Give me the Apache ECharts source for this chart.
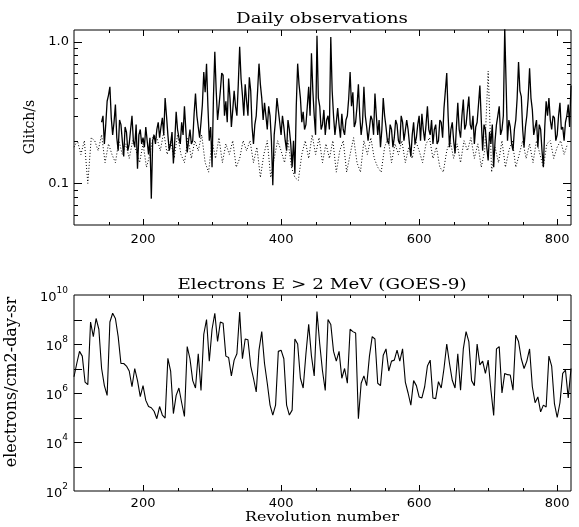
<!DOCTYPE html>
<html>
<head>
<meta charset="utf-8">
<title>Daily observations</title>
<script src="https://cdn.jsdelivr.net/npm/echarts@6.0.0/dist/echarts.min.js"></script>
<style>
  html, body { margin: 0; padding: 0; background: #fff; }
  #chart { width: 579px; height: 527px; }
</style>
</head>
<body>
<div id="chart"></div>
<script>
// top panel, solid trace: one reading every 2 revolutions starting at rev 140
const glitchStart = 140
const glitchStep = 2
const glitchDaily = [
  0.27, 0.30, 0.19, 0.26, 0.38, 0.42, 0.48, 0.29, 0.22, 0.27,   // 140
  0.36, 0.21, 0.17, 0.28, 0.26, 0.2, 0.155, 0.25, 0.23, 0.17,   // 160
  0.19, 0.24, 0.30, 0.2, 0.18, 0.26, 0.127, 0.22, 0.24, 0.19,   // 180
  0.21, 0.18, 0.25, 0.2, 0.16, 0.21, 0.078, 0.2, 0.22, 0.19,    // 200
  0.24, 0.27, 0.21, 0.25, 0.29, 0.22, 0.40, 0.3, 0.22, 0.17,    // 220
  0.19, 0.23, 0.138, 0.2, 0.32, 0.24, 0.21, 0.19, 0.27, 0.22,   // 240
  0.35, 0.24, 0.165, 0.2, 0.24, 0.19, 0.2, 0.31, 0.43, 0.3,     // 260
  0.25, 0.21, 0.27, 0.36, 0.61, 0.44, 0.70, 0.35, 0.2, 0.25,    // 280
  0.13, 0.4, 0.85, 0.45, 0.28, 0.35, 0.45, 0.6, 0.58, 0.3,      // 300
  0.38, 0.27, 0.55, 0.4, 0.25, 0.33, 0.45, 0.35, 0.3, 0.5,      // 320
  0.92, 0.55, 0.42, 0.3, 0.5, 0.38, 0.3, 0.56, 0.45, 0.25,      // 340
  0.19, 0.26, 0.3, 0.45, 0.70, 0.5, 0.4, 0.28, 0.37, 0.3,       // 360
  0.24, 0.35, 0.3, 0.2, 0.097, 0.22, 0.28, 0.4, 0.39, 0.27,     // 380
  0.22, 0.3, 0.25, 0.2, 0.17, 0.28, 0.24, 0.19, 0.13, 0.2,      // 400
  0.117, 0.35, 0.70, 0.5, 0.4, 0.27, 0.32, 0.24, 0.26, 0.35,    // 420
  0.48, 0.3, 0.83, 0.45, 0.3, 0.22, 1.1, 0.4, 0.35, 0.24,       // 440
  0.26, 0.33, 0.22, 0.28, 0.3, 0.24, 1.08, 0.45, 0.3, 0.22,     // 460
  0.27, 0.34, 0.26, 0.21, 0.31, 0.24, 0.22, 0.28, 0.3, 0.4,     // 480
  0.61, 0.35, 0.44, 0.25, 0.27, 0.35, 0.5, 0.3, 0.22, 0.27,     // 500
  0.48, 0.3, 0.25, 0.2, 0.2, 0.3, 0.28, 0.22, 0.43, 0.3,        // 520
  0.22, 0.28, 0.18, 0.24, 0.4, 0.3, 0.25, 0.2, 0.19, 0.26,      // 540
  0.24, 0.18, 0.21, 0.28, 0.26, 0.2, 0.19, 0.3, 0.27, 0.2,      // 560
  0.2, 0.28, 0.24, 0.19, 0.154, 0.22, 0.27, 0.19, 0.21, 0.26,   // 580
  0.3, 0.2, 0.31, 0.24, 0.2, 0.26, 0.35, 0.24, 0.22, 0.28,      // 600
  0.19, 0.24, 0.26, 0.19, 0.2, 0.28, 0.27, 0.21, 0.34, 0.45,    // 620
  0.60, 0.3, 0.18, 0.24, 0.27, 0.2, 0.163, 0.25, 0.37, 0.24,    // 640
  0.21, 0.3, 0.39, 0.24, 0.26, 0.33, 0.41, 0.26, 0.24, 0.3,     // 660
  0.19, 0.25, 0.27, 0.36, 0.49, 0.28, 0.17, 0.26, 0.24, 0.18,   // 680
  0.145, 0.23, 0.19, 0.26, 0.13, 0.2, 0.26, 0.3, 0.35, 0.22,    // 700
  0.24, 0.3, 1.25, 0.5, 0.2, 0.28, 0.25, 0.19, 0.17, 0.24,      // 720
  0.28, 0.4, 0.72, 0.45, 0.41, 0.24, 0.18, 0.25, 0.3, 0.4,      // 740
  0.65, 0.4, 0.33, 0.22, 0.22, 0.28, 0.18, 0.26, 0.24, 0.17,    // 760
  0.13, 0.25, 0.38, 0.3, 0.4, 0.28, 0.24, 0.3, 0.29, 0.2,       // 780
  0.22, 0.3, 0.37, 0.24, 0.25, 0.2, 0.27, 0.3, 0.36, 0.25,      // 800
  0.49                                                          // 820
]

// top panel, dotted trace: every 5 revolutions from rev 100
const glitchLowStart = 100
const glitchLowStep = 5
const glitchLow = [
  0.18, 0.2, 0.16, 0.2, 0.1, 0.21, 0.2, 0.17, 0.22, 0.14,     // 100
  0.19, 0.16, 0.14, 0.2, 0.16, 0.19, 0.15, 0.2, 0.17, 0.14,   // 150
  0.19, 0.13, 0.16, 0.22, 0.21, 0.17, 0.23, 0.16, 0.2, 0.15,  // 200
  0.22, 0.16, 0.14, 0.21, 0.15, 0.2, 0.17, 0.22, 0.14, 0.12,  // 250
  0.2, 0.15, 0.21, 0.14, 0.19, 0.16, 0.2, 0.13, 0.15, 0.2,    // 300
  0.17, 0.2, 0.14, 0.18, 0.11, 0.16, 0.2, 0.11, 0.15, 0.2,    // 350
  0.17, 0.14, 0.2, 0.13, 0.11, 0.105, 0.16, 0.2, 0.15, 0.22,  // 400
  0.16, 0.21, 0.14, 0.19, 0.15, 0.2, 0.12, 0.17, 0.2, 0.12,   // 450
  0.16, 0.21, 0.14, 0.12, 0.2, 0.16, 0.21, 0.15, 0.13, 0.12,  // 500
  0.18, 0.21, 0.14, 0.19, 0.16, 0.2, 0.14, 0.18, 0.15, 0.2,   // 550
  0.17, 0.14, 0.19, 0.21, 0.15, 0.18, 0.13, 0.12, 0.17, 0.2,  // 600
  0.15, 0.19, 0.14, 0.2, 0.17, 0.21, 0.15, 0.19, 0.13, 0.17,  // 650
  0.62, 0.12, 0.18, 0.14, 0.2, 0.13, 0.17, 0.2, 0.13, 0.16,   // 700
  0.2, 0.15, 0.19, 0.14, 0.2, 0.16, 0.13, 0.19, 0.2, 0.15,    // 750
  0.18, 0.2, 0.16, 0.19                                       // 800
]

// bottom panel: GOES-9 electron fluence, every 4 revolutions from rev 100
const electronStart = 100
const electronStep = 4
const electrons = [
  4.6e6, 1.6e7, 5e7, 3.2e7, 2.8e6, 2.2e6, 7.9e8, 2e8, 1.1e9, 4e8,       // 100
  1e7, 2e6, 8e5, 7.9e8, 1.8e9, 1.1e9, 2e8, 1.6e7, 1.6e7, 1.26e7,        // 140
  7.9e6, 1.8e6, 1e7, 3.2e6, 7.1e5, 2e6, 5e5, 2.8e5, 2.5e5, 1.8e5,       // 180
  8.9e4, 2.8e5, 1.26e5, 9.5e4, 2.6e7, 7.9e6, 1.45e5, 8e5, 1.6e6, 4e5,   // 220
  1.1e5, 7.9e7, 2.5e7, 3.2e6, 1.6e6, 4e7, 1.26e6, 2.5e8, 1e9, 2e7,      // 260
  4e8, 1.8e9, 1.26e8, 7.9e8, 7.1e8, 3.2e7, 2.8e7, 5e6, 2.2e7, 4e7,      // 300
  2e9, 2.5e7, 1.6e8, 1.5e8, 1.26e7, 4e6, 1.1e6, 5.6e7, 3.2e8, 1.6e7,    // 340
  2.5e6, 3.2e5, 1.26e5, 3.2e5, 5e7, 5.6e7, 2.5e7, 3.2e5, 1.26e5, 2e5,   // 380
  1.6e8, 1e8, 4e6, 1.6e6, 4e7, 6.3e8, 3.2e7, 5e6, 2.1e9, 1e8,           // 420
  7.9e6, 1.26e6, 1e9, 6.3e8, 5e7, 2e7, 5e7, 4e6, 1e7, 2.5e6,            // 460
  4e8, 3.2e8, 2.8e8, 8.9e4, 2.5e6, 5e6, 2e6, 3.2e7, 2e8, 1.6e8,         // 500
  2.5e6, 2e6, 3.5e7, 6.3e7, 7.9e6, 2e7, 2.2e7, 5.6e7, 2e7, 6.3e7,       // 540
  2.8e6, 1e6, 3.2e5, 3.2e6, 2e6, 6.9e5, 6.3e5, 1.8e6, 1.26e7, 2.2e7,    // 580
  6.3e5, 5.9e5, 2.9e6, 1.6e6, 1e7, 1e8, 1.6e7, 3.3e6, 1.6e6, 4e7,       // 620
  1.3e6, 6.3e7, 3.2e8, 1.26e8, 3.2e6, 2e6, 1e8, 1.4e7, 2e7, 6.3e6,      // 660
  2.2e7, 1.3e6, 1.2e5, 6.3e7, 7.8e7, 1e6, 6.3e6, 5.6e6, 5.4e6, 1.3e6,   // 700
  2.3e8, 1.26e8, 2.5e7, 1e7, 2e7, 6.3e7, 1.8e6, 4e5, 6.9e5, 1.7e5,      // 740
  3.2e5, 2.7e5, 3.2e7, 1.26e7, 3.7e5, 1e5, 4e5, 6.3e6, 8.5e6, 6.3e5,    // 780
  1e7                                                                   // 820
]

// axis ticks (IDL style: inward, on all four sides)
const revTicksMajor = [200, 400, 600, 800]
const revTicksMinor = [150, 250, 300, 350, 450, 500, 550, 650, 700, 750]
const glitchTicksMajor = [0.1, 1]
const glitchTicksMinor = [0.06, 0.07, 0.08, 0.09, 0.2, 0.3, 0.4, 0.5, 0.6, 0.7, 0.8, 0.9]
const electronTicks = [1e3, 1e4, 1e5, 1e6, 1e7, 1e8, 1e9]
const electronLabels = [1e2, 1e4, 1e6, 1e8, 1e10]

const serif = 'DejaVu Serif'
const sans = 'DejaVu Sans'
// the IDL lettering is about a fifth wider than DejaVu Serif
const stretch = 1.22

function toPairs(start, step, values) {
  return values.map((v, i) => [start + i * step, v])
}

// custom series that draws the ticks through the axes' own scales
function tickSeries(idx, yMajor, yMinor, yRef, yMajorLen, yMinorLen) {
  const data = []
  revTicksMajor.forEach(v => data.push([v, yRef, 6, 0]))
  revTicksMinor.forEach(v => data.push([v, yRef, 3, 0]))
  yMajor.forEach(v => data.push([100, v, yMajorLen, 1]))
  yMinor.forEach(v => data.push([100, v, yMinorLen, 1]))
  return {
    type: 'custom',
    xAxisIndex: idx,
    yAxisIndex: idx,
    silent: true,
    z: 5,
    data: data,
    renderItem: function (params, api) {
      const cs = params.coordSys
      const p = api.coord([api.value(0), api.value(1)])
      const len = api.value(2)
      const style = { stroke: '#000', lineWidth: 1 }
      if (api.value(3) === 0) {
        const x = Math.round(p[0]) + 0.5
        const yb = cs.y + cs.height
        return {
          type: 'group',
          children: [
            { type: 'line', shape: { x1: x, y1: yb, x2: x, y2: yb - len }, style: style },
            { type: 'line', shape: { x1: x, y1: cs.y, x2: x, y2: cs.y + len }, style: style }
          ]
        }
      }
      const y = Math.round(p[1]) + 0.5
      const xr = cs.x + cs.width
      return {
        type: 'group',
        children: [
          { type: 'line', shape: { x1: cs.x, y1: y, x2: cs.x + len, y2: y }, style: style },
          { type: 'line', shape: { x1: xr, y1: y, x2: xr - len, y2: y }, style: style }
        ]
      }
    }
  }
}

function label(text, x, y, size, rotated) {
  return {
    type: 'text',
    x: x,
    y: y,
    rotation: rotated ? Math.PI / 2 : 0,
    scaleX: rotated ? 1 : stretch,
    silent: true,
    style: {
      text: text,
      font: size + 'px "' + serif + '"',
      fill: '#000',
      align: 'center',
      verticalAlign: 'middle'
    }
  }
}

const chart = echarts.init(document.getElementById('chart'), null, { renderer: 'canvas' })

const revAxis = idx => ({
  type: 'value',
  gridIndex: idx,
  min: 100,
  max: 820,
  splitLine: { show: false },
  axisLine: { show: false },
  axisTick: { show: false },
  axisLabel: {
    customValues: revTicksMajor,
    color: '#000',
    fontFamily: sans,
    fontSize: 13,
    margin: idx === 0 ? 8 : 6
  }
})

chart.setOption({
  animation: false,
  backgroundColor: '#fff',
  graphic: [
    label('Daily observations', 322, 19, 15, false),
    label('Electrons E > 2 MeV (GOES-9)', 322, 285, 15, false),
    label('Revolution number', 322, 518, 13, false),
    label('Glitch/s', 30, 127, 14, true),
    label('electrons/cm2-day-sr', 12, 382, 16, true)
  ],
  grid: [
    { left: 74, right: 8, top: 30, height: 195, show: true, borderColor: '#000', borderWidth: 1, backgroundColor: '#fff' },
    { left: 74, right: 8, top: 295, height: 196, show: true, borderColor: '#000', borderWidth: 1, backgroundColor: '#fff' }
  ],
  xAxis: [revAxis(0), revAxis(1)],
  yAxis: [
    {
      type: 'log',
      logBase: 10,
      gridIndex: 0,
      min: 0.0508,
      max: 1.21,
      splitLine: { show: false },
      axisLine: { show: false },
      axisTick: { show: false },
      axisLabel: {
        customValues: glitchTicksMajor,
        formatter: v => (v >= 0.99 ? '1.0' : '0.1'),
        color: '#000',
        fontFamily: sans,
        fontSize: 13,
        margin: 5
      }
    },
    {
      type: 'log',
      logBase: 10,
      gridIndex: 1,
      min: 1e2,
      max: 1e10,
      splitLine: { show: false },
      axisLine: { show: false },
      axisTick: { show: false },
      axisLabel: {
        customValues: electronLabels,
        formatter: v => '{b|10}{e|' + Math.round(Math.log10(v)) + '}',
        margin: 6,
        rich: {
          b: { fontFamily: sans, fontSize: 13, color: '#000', lineHeight: 18, verticalAlign: 'bottom' },
          e: { fontFamily: sans, fontSize: 9, color: '#000', lineHeight: 18, verticalAlign: 'top' }
        }
      }
    }
  ],
  series: [
    {
      name: 'glitch rate',
      type: 'line',
      xAxisIndex: 0,
      yAxisIndex: 0,
      data: toPairs(glitchStart, glitchStep, glitchDaily),
      symbol: 'none',
      lineStyle: { color: '#000', width: 1.3 },
      z: 3
    },
    {
      name: 'glitch rate (dotted)',
      type: 'line',
      xAxisIndex: 0,
      yAxisIndex: 0,
      data: toPairs(glitchLowStart, glitchLowStep, glitchLow),
      symbol: 'none',
      lineStyle: { color: '#000', width: 1, type: [1, 2] },
      z: 2
    },
    {
      name: 'electrons',
      type: 'line',
      xAxisIndex: 1,
      yAxisIndex: 1,
      data: toPairs(electronStart, electronStep, electrons),
      symbol: 'none',
      lineStyle: { color: '#000', width: 1.1 },
      z: 3
    },
    tickSeries(0, glitchTicksMajor, glitchTicksMinor, 0.1, 8, 4),
    tickSeries(1, [], electronTicks, 1e6, 8, 8)
  ]
})
</script>
</body>
</html>
